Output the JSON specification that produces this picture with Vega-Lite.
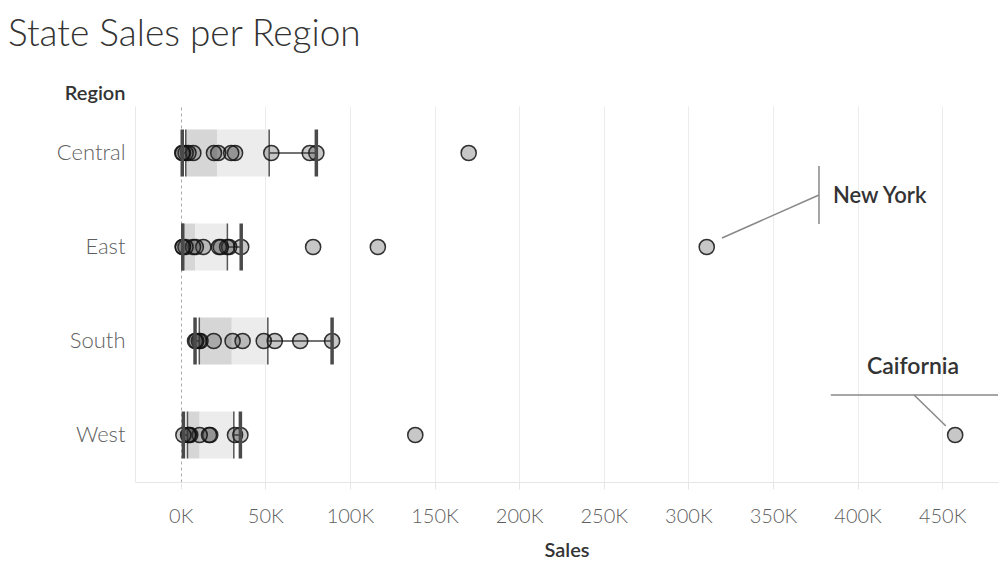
{
  "$schema": "https://vega.github.io/schema/vega-lite/v6.json",
  "width": 863,
  "height": 376,
  "autosize": {"type": "none"},
  "padding": {"left": 135, "top": 106, "right": 2, "bottom": 93},
  "background": "white",
  "config": {
    "view": {"stroke": null},
    "font": "Lato"
  },
  "title": {
    "text": "State Sales per Region",
    "anchor": "start",
    "frame": "group",
    "dx": -127,
    "dy": -25,
    "fontSize": 37,
    "fontWeight": 300,
    "color": "#333333",
    "font": "Lato"
  },
  "datasets": {
    "states": [
      {"State": "Texas", "Region": "Central", "Sales": 170188},
      {"State": "Illinois", "Region": "Central", "Sales": 80166},
      {"State": "Michigan", "Region": "Central", "Sales": 76270},
      {"State": "Indiana", "Region": "Central", "Sales": 53555},
      {"State": "Wisconsin", "Region": "Central", "Sales": 32115},
      {"State": "Minnesota", "Region": "Central", "Sales": 29863},
      {"State": "Missouri", "Region": "Central", "Sales": 22205},
      {"State": "Oklahoma", "Region": "Central", "Sales": 19683},
      {"State": "Nebraska", "Region": "Central", "Sales": 7465},
      {"State": "Iowa", "Region": "Central", "Sales": 4580},
      {"State": "Kansas", "Region": "Central", "Sales": 2914},
      {"State": "South Dakota", "Region": "Central", "Sales": 1316},
      {"State": "North Dakota", "Region": "Central", "Sales": 920},
      {"State": "New York", "Region": "East", "Sales": 310876},
      {"State": "Pennsylvania", "Region": "East", "Sales": 116512},
      {"State": "Ohio", "Region": "East", "Sales": 78258},
      {"State": "New Jersey", "Region": "East", "Sales": 35764},
      {"State": "Massachusetts", "Region": "East", "Sales": 28634},
      {"State": "Delaware", "Region": "East", "Sales": 27451},
      {"State": "Maryland", "Region": "East", "Sales": 23706},
      {"State": "Rhode Island", "Region": "East", "Sales": 22628},
      {"State": "Connecticut", "Region": "East", "Sales": 13384},
      {"State": "Vermont", "Region": "East", "Sales": 8929},
      {"State": "New Hampshire", "Region": "East", "Sales": 7293},
      {"State": "District of Columbia", "Region": "East", "Sales": 2865},
      {"State": "Maine", "Region": "East", "Sales": 1271},
      {"State": "West Virginia", "Region": "East", "Sales": 1210},
      {"State": "Florida", "Region": "South", "Sales": 89474},
      {"State": "Virginia", "Region": "South", "Sales": 70637},
      {"State": "North Carolina", "Region": "South", "Sales": 55603},
      {"State": "Georgia", "Region": "South", "Sales": 49096},
      {"State": "Kentucky", "Region": "South", "Sales": 36592},
      {"State": "Tennessee", "Region": "South", "Sales": 30662},
      {"State": "Alabama", "Region": "South", "Sales": 19511},
      {"State": "Arkansas", "Region": "South", "Sales": 11678},
      {"State": "Mississippi", "Region": "South", "Sales": 10771},
      {"State": "Louisiana", "Region": "South", "Sales": 9217},
      {"State": "South Carolina", "Region": "South", "Sales": 8482},
      {"State": "California", "Region": "West", "Sales": 457688},
      {"State": "Washington", "Region": "West", "Sales": 138641},
      {"State": "Arizona", "Region": "West", "Sales": 35282},
      {"State": "Colorado", "Region": "West", "Sales": 32108},
      {"State": "Oregon", "Region": "West", "Sales": 17431},
      {"State": "Nevada", "Region": "West", "Sales": 16729},
      {"State": "Utah", "Region": "West", "Sales": 11220},
      {"State": "Montana", "Region": "West", "Sales": 5589},
      {"State": "New Mexico", "Region": "West", "Sales": 4784},
      {"State": "Idaho", "Region": "West", "Sales": 4382},
      {"State": "Wyoming", "Region": "West", "Sales": 1603}
    ],
    "boxes": [
      {"Region": "Central", "LowerWhisker": 920, "Q1": 3000, "Median": 21500, "Q3": 52300, "UpperWhisker": 80166},
      {"Region": "East", "LowerWhisker": 1210, "Q1": 1271, "Median": 8700, "Q3": 27600, "UpperWhisker": 35764},
      {"Region": "South", "LowerWhisker": 8482, "Q1": 11000, "Median": 30200, "Q3": 51500, "UpperWhisker": 89474},
      {"Region": "West", "LowerWhisker": 1603, "Q1": 4000, "Median": 11200, "Q3": 31400, "UpperWhisker": 35282}
    ]
  },
  "layer": [
    {
      "data": {"name": "boxes"},
      "mark": {"type": "bar", "size": 47, "color": "#d6d6d6"},
      "encoding": {
        "y": {
          "field": "Region", "type": "nominal",
          "scale": {"paddingInner": 0, "paddingOuter": 0},
          "axis": {
            "title": "Region",
            "titleAngle": 0,
            "titleAlign": "right",
            "titleBaseline": "alphabetic",
            "titleX": -10,
            "titleY": -7,
            "titleFontSize": 20,
            "titleFontWeight": 600,
            "titleColor": "#333333",
            "labelFontSize": 22,
            "labelFontWeight": 300,
            "labelColor": "#5f5f5f",
            "labelPadding": 10,
            "ticks": false,
            "domain": true,
            "domainColor": "#e8e8e8",
            "domainWidth": 1
          }
        },
        "x": {
          "field": "Q1", "type": "quantitative",
          "scale": {"domain": [-27000, 483000], "nice": false, "zero": false},
          "axis": {
            "title": "Sales",
            "values": [0, 50000, 100000, 150000, 200000, 250000, 300000, 350000, 400000, 450000],
            "labelExpr": "datum.value / 1000 + 'K'",
            "labelFontSize": 20,
            "labelFontWeight": 300,
            "labelColor": "#5f5f5f",
            "labelPadding": 17,
            "tickColor": "#e6e6e6",
            "tickSize": 7,
            "domainColor": "#e6e6e6",
            "grid": true,
            "gridColor": {"condition": {"test": "datum.value === 0", "value": "#aaaaaa"}, "value": "#ececec"},
            "gridDash": {"condition": {"test": "datum.value === 0", "value": [3, 3]}, "value": []},
            "titleFontSize": 20,
            "titleFontWeight": 600,
            "titleColor": "#333333",
            "titlePadding": 14
          }
        },
        "x2": {"field": "Median"}
      }
    },
    {
      "data": {"name": "boxes"},
      "mark": {"type": "bar", "size": 47, "color": "#ececec"},
      "encoding": {
        "y": {"field": "Region", "type": "nominal"},
        "x": {"field": "Median", "type": "quantitative"},
        "x2": {"field": "Q3"}
      }
    },
    {
      "data": {"name": "boxes"},
      "mark": {"type": "rule", "color": "#444444", "strokeWidth": 1.5},
      "encoding": {
        "y": {"field": "Region", "type": "nominal"},
        "x": {"field": "Q3", "type": "quantitative"},
        "x2": {"field": "UpperWhisker"}
      }
    },
    {
      "data": {"name": "boxes"},
      "mark": {"type": "rule", "color": "#444444", "strokeWidth": 1.5},
      "encoding": {
        "y": {"field": "Region", "type": "nominal"},
        "x": {"field": "LowerWhisker", "type": "quantitative"},
        "x2": {"field": "Q1"}
      }
    },
    {
      "data": {"name": "boxes"},
      "mark": {"type": "tick", "orient": "vertical", "size": 47, "thickness": 1.5, "color": "#555555", "opacity": 1},
      "encoding": {
        "y": {"field": "Region", "type": "nominal"},
        "x": {"field": "Q1", "type": "quantitative"}
      }
    },
    {
      "data": {"name": "boxes"},
      "mark": {"type": "tick", "orient": "vertical", "size": 47, "thickness": 1.5, "color": "#555555", "opacity": 1},
      "encoding": {
        "y": {"field": "Region", "type": "nominal"},
        "x": {"field": "Q3", "type": "quantitative"}
      }
    },
    {
      "data": {"name": "states"},
      "mark": {"type": "circle", "size": 230, "opacity": 1, "fill": "#303030", "fillOpacity": 0.27, "stroke": "#111111", "strokeOpacity": 0.85, "strokeWidth": 1.5},
      "encoding": {
        "y": {"field": "Region", "type": "nominal"},
        "x": {"field": "Sales", "type": "quantitative"}
      }
    },
    {
      "data": {"name": "boxes"},
      "mark": {"type": "tick", "orient": "vertical", "size": 47, "thickness": 3.5, "color": "#4a4a4a", "opacity": 1},
      "encoding": {
        "y": {"field": "Region", "type": "nominal"},
        "x": {"field": "LowerWhisker", "type": "quantitative"}
      }
    },
    {
      "data": {"name": "boxes"},
      "mark": {"type": "tick", "orient": "vertical", "size": 47, "thickness": 3.5, "color": "#4a4a4a", "opacity": 1},
      "encoding": {
        "y": {"field": "Region", "type": "nominal"},
        "x": {"field": "UpperWhisker", "type": "quantitative"}
      }
    },
    {
      "data": {"values": [{}]},
      "mark": {"type": "rule", "color": "#888888", "strokeWidth": 1.5, "yOffset": -9, "y2Offset": -52},
      "encoding": {
        "x": {"datum": 319900, "type": "quantitative"},
        "x2": {"datum": 377200},
        "y": {"datum": "East", "type": "nominal"},
        "y2": {"datum": "East"}
      }
    },
    {
      "data": {"values": [{}]},
      "mark": {"type": "rule", "color": "#888888", "strokeWidth": 1.5, "yOffset": -81, "y2Offset": -23},
      "encoding": {
        "x": {"datum": 377200, "type": "quantitative"},
        "y": {"datum": "East", "type": "nominal"},
        "y2": {"datum": "East"}
      }
    },
    {
      "data": {"values": [{}]},
      "mark": {"type": "text", "text": "New York", "align": "left", "baseline": "middle", "dx": 14, "dy": -51, "fontSize": 22, "fontWeight": 600, "color": "#333333"},
      "encoding": {
        "x": {"datum": 377200, "type": "quantitative"},
        "y": {"datum": "East", "type": "nominal"}
      }
    },
    {
      "data": {"values": [{}]},
      "mark": {"type": "rule", "color": "#888888", "strokeWidth": 1.5, "yOffset": -40, "y2Offset": -40},
      "encoding": {
        "x": {"datum": 384200, "type": "quantitative"},
        "x2": {"datum": 483000},
        "y": {"datum": "West", "type": "nominal"},
        "y2": {"datum": "West"}
      }
    },
    {
      "data": {"values": [{}]},
      "mark": {"type": "rule", "color": "#888888", "strokeWidth": 1.5, "yOffset": -40, "y2Offset": -9},
      "encoding": {
        "x": {"datum": 433400, "type": "quantitative"},
        "x2": {"datum": 452200},
        "y": {"datum": "West", "type": "nominal"},
        "y2": {"datum": "West"}
      }
    },
    {
      "data": {"values": [{}]},
      "mark": {"type": "text", "text": "Caifornia", "align": "center", "baseline": "middle", "dy": -68, "fontSize": 23, "fontWeight": 600, "color": "#333333"},
      "encoding": {
        "x": {"datum": 432800, "type": "quantitative"},
        "y": {"datum": "West", "type": "nominal"}
      }
    }
  ]
}
